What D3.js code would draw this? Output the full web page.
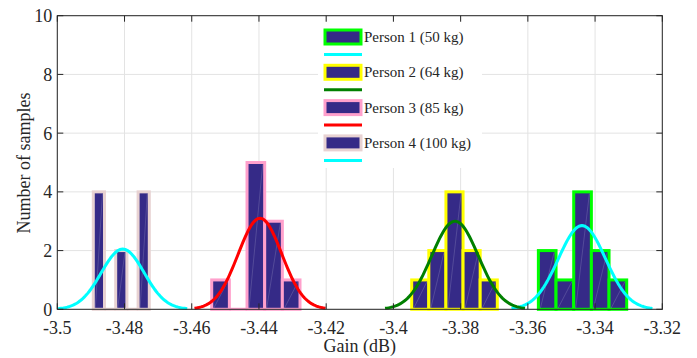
<!DOCTYPE html>
<html><head><meta charset="utf-8">
<script src="https://cdn.jsdelivr.net/npm/d3@7"></script>
<style>
body{margin:0;background:#fff}
svg{display:block}
text{font-family:"Liberation Serif","Times New Roman",serif;fill:#262626}
</style>
</head><body>
<svg id="c" width="697" height="358"></svg>
<script>
// ---- data ----
const xTickValues = [-3.5, -3.48, -3.46, -3.44, -3.42, -3.4, -3.38, -3.36, -3.34, -3.32];
const xTickLabels = ["-3.5", "-3.48", "-3.46", "-3.44", "-3.42", "-3.4", "-3.38", "-3.36", "-3.34", "-3.32"];
const yTickValues = [0, 2, 4, 6, 8, 10];
const yTickLabels = ["0", "2", "4", "6", "8", "10"];
const personNames = ["Person 1 (50 kg)", "Person 2 (64 kg)", "Person 3 (85 kg)", "Person 4 (100 kg)"];
const binStart = [-3.35687, -3.39456, -3.45406, -3.48929];
const binEnd   = [-3.33059, -3.36909, -3.42779, -3.47263];
const counts1 = [2, 1, 4, 2, 1];
const counts2 = [1, 2, 4, 2, 1];
const counts3 = [1, 0, 5, 3, 1];
const counts4 = [4, 0, 2, 0, 4];
const fitMean  = [-3.3439, -3.38167, -3.43969, -3.48054];
const fitSigma = [0.00699, 0.00694, 0.0065, 0.0064];
const fitPeak  = [2.85, 3.0, 3.1, 2.05];
const edgeColors  = ["#00ff00", "#ffff00", "#ffa0cc", "#e8d2d2"];
const curveColors = ["#00ffff", "#008000", "#ff0000", "#00ffff"];
const barFill = "#352a87";

const allCounts = [counts1, counts2, counts3, counts4];

// ---- layout ----
const svg = d3.select("#c");
const L = 57.3, R = 662.3, T = 15.7, B = 309.3;
const x = d3.scaleLinear().domain([-3.5, -3.32]).range([L, R]);
const y = d3.scaleLinear().domain([0, 10]).range([B, T]);
const axisCol = "#262626";

svg.append("defs").append("clipPath").attr("id", "clip")
  .append("rect").attr("x", L).attr("y", T - 3).attr("width", R - L).attr("height", B - T + 6);

// grid
const grid = svg.append("g");
xTickValues.forEach(v => grid.append("line").attr("x1", x(v)).attr("x2", x(v)).attr("y1", T).attr("y2", B)
  .attr("stroke", "#e3e3e3").attr("stroke-width", 1));
yTickValues.forEach(v => grid.append("line").attr("x1", L).attr("x2", R).attr("y1", y(v)).attr("y2", y(v))
  .attr("stroke", "#e3e3e3").attr("stroke-width", 1));

// bars
const plot = svg.append("g").attr("clip-path", "url(#clip)");
allCounts.forEach((cnts, p) => {
  const n = cnts.length;
  const edges = d3.range(n + 1).map(i => binStart[p] + (binEnd[p] - binStart[p]) * i / n);
  const g = plot.append("g");
  cnts.forEach((c, i) => {
    const x0 = x(edges[i]), x1 = x(edges[i + 1]), yt = y(c);
    if (c > 0) {
      g.append("rect").attr("x", x0).attr("y", yt).attr("width", x1 - x0).attr("height", B - yt)
        .attr("fill", barFill).attr("stroke", edgeColors[p]).attr("stroke-width", 3);
      g.append("line").attr("x1", x0 + 2).attr("y1", B - 1).attr("x2", x1 - 2).attr("y2", yt + 2)
        .attr("stroke", "rgba(255,255,255,0.22)").attr("stroke-width", 0.7);
    } else {
      g.append("line").attr("x1", x0).attr("x2", x1).attr("y1", B).attr("y2", B)
        .attr("stroke", edgeColors[p]).attr("stroke-width", 3);
    }
  });
});

// fitted curves
fitMean.forEach((mu, p) => {
  const s = fitSigma[p];
  const pts = d3.range(101).map(i => {
    const xv = mu - 3 * s + 6 * s * i / 100;
    return [xv, fitPeak[p] * Math.exp(-((xv - mu) ** 2) / (2 * s * s))];
  });
  plot.append("path").datum(pts)
    .attr("d", d3.line().x(d => x(d[0])).y(d => y(d[1])))
    .attr("fill", "none").attr("stroke", curveColors[p]).attr("stroke-width", 3);
});

// axes box
const ax = svg.append("g");
ax.append("rect").attr("x", L).attr("y", T).attr("width", R - L).attr("height", B - T)
  .attr("fill", "none").attr("stroke", axisCol).attr("stroke-width", 1);
const tk = 6;
xTickValues.forEach((v, i) => {
  ax.append("line").attr("x1", x(v)).attr("x2", x(v)).attr("y1", B).attr("y2", B - tk).attr("stroke", axisCol);
  ax.append("line").attr("x1", x(v)).attr("x2", x(v)).attr("y1", T).attr("y2", T + tk).attr("stroke", axisCol);
  ax.append("text").attr("x", x(v)).attr("y", B + 25).attr("text-anchor", "middle")
    .attr("font-size", 18).text(xTickLabels[i]);
});
yTickValues.forEach((v, i) => {
  ax.append("line").attr("x1", L).attr("x2", L + tk).attr("y1", y(v)).attr("y2", y(v)).attr("stroke", axisCol);
  ax.append("line").attr("x1", R).attr("x2", R - tk).attr("y1", y(v)).attr("y2", y(v)).attr("stroke", axisCol);
  ax.append("text").attr("x", L - 5).attr("y", y(v) + 6.5).attr("text-anchor", "end")
    .attr("font-size", 18).text(yTickLabels[i]);
});
svg.append("text").attr("x", (L + R) / 2).attr("y", 352).attr("text-anchor", "middle")
  .attr("font-size", 18).text("Gain (dB)");
svg.append("text").attr("transform", "translate(30,163) rotate(-90)").attr("text-anchor", "middle")
  .attr("font-size", 18).text("Number of samples");

// legend
const lg = svg.append("g");
lg.append("rect").attr("x", 318).attr("y", 22).attr("width", 164).attr("height", 146).attr("fill", "#fff");
personNames.forEach((name, p) => {
  const cy = 37 + p * 35.3;
  lg.append("rect").attr("x", 325).attr("y", cy - 7).attr("width", 36).attr("height", 14)
    .attr("fill", barFill).attr("stroke", edgeColors[p]).attr("stroke-width", 3);
  lg.append("text").attr("x", 364).attr("y", cy + 5).attr("font-size", 15).text(name);
  lg.append("line").attr("x1", 324).attr("x2", 362).attr("y1", cy + 17.5).attr("y2", cy + 17.5)
    .attr("stroke", curveColors[p]).attr("stroke-width", 3);
});
</script>
</body></html>
